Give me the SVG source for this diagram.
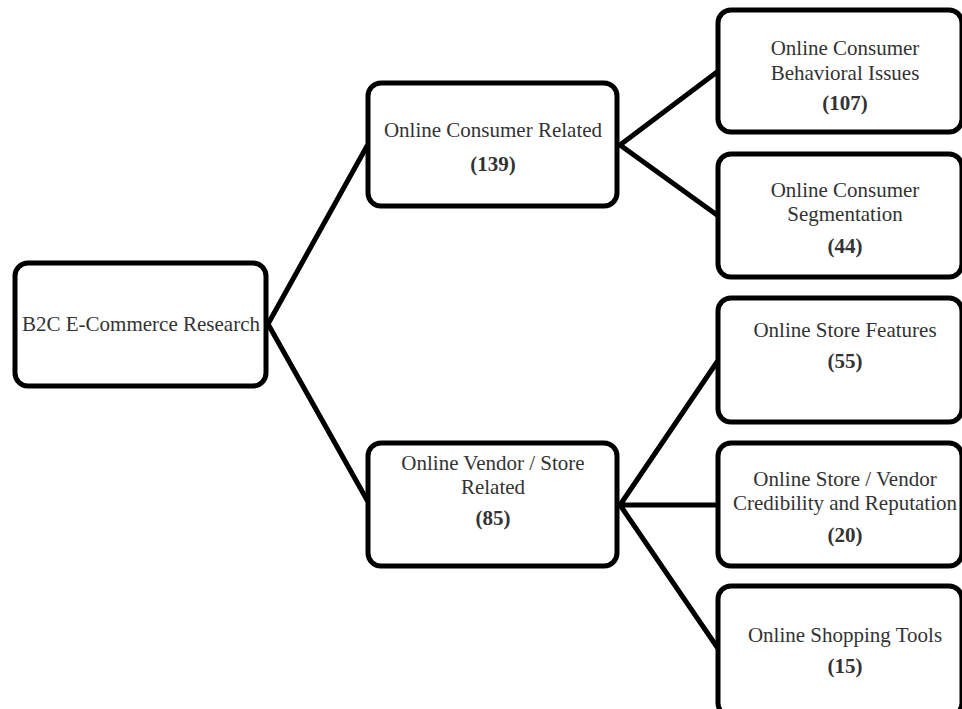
<svg xmlns="http://www.w3.org/2000/svg" width="962" height="709" viewBox="0 0 962 709">
<style>
.box{fill:#fff;stroke:#000;stroke-width:5}
.ln{stroke:#000;stroke-width:5;fill:none;stroke-linecap:round}
text{font-family:"Liberation Serif","Times New Roman",serif;font-size:21px;fill:#333;text-anchor:middle}
.n{font-weight:bold}
</style>
<rect width="962" height="709" fill="#fff"/>
<g id="connectors">
<path class="ln" d="M268 324 L367 146 M268 324 L367 500"/>
<path class="ln" d="M620 145 L717 72 M620 145 L717 215"/>
<path class="ln" d="M620 505 L717 362 M620 505 L717 505 M620 505 L717 647"/>
</g>
<g id="root">
<rect class="box" x="15" y="263" width="251" height="123" rx="13"/>
<text x="141" y="331">B2C E-Commerce Research</text>
</g>
<g id="consumer">
<rect class="box" x="368" y="83" width="249" height="123" rx="13"/>
<text x="493" y="137">Online Consumer Related</text>
<text class="n" x="493" y="171">(139)</text>
</g>
<g id="vendor">
<rect class="box" x="368" y="443" width="249" height="123" rx="13"/>
<text x="493" y="470">Online Vendor / Store</text>
<text x="493" y="494">Related</text>
<text class="n" x="493" y="525">(85)</text>
</g>
<g id="behavioral">
<rect class="box" x="718" y="10" width="244" height="122" rx="13"/>
<text x="845" y="55">Online Consumer</text>
<text x="845" y="80">Behavioral Issues</text>
<text class="n" x="845" y="110">(107)</text>
</g>
<g id="segmentation">
<rect class="box" x="718" y="154" width="244" height="123" rx="13"/>
<text x="845" y="197">Online Consumer</text>
<text x="845" y="221">Segmentation</text>
<text class="n" x="845" y="253">(44)</text>
</g>
<g id="features">
<rect class="box" x="718" y="298" width="244" height="124" rx="13"/>
<text x="845" y="337">Online Store Features</text>
<text class="n" x="845" y="368">(55)</text>
</g>
<g id="credibility">
<rect class="box" x="718" y="443" width="244" height="123" rx="13"/>
<text x="845" y="486">Online Store / Vendor</text>
<text x="845" y="510">Credibility and Reputation</text>
<text class="n" x="845" y="542">(20)</text>
</g>
<g id="tools">
<rect class="box" x="718" y="586" width="244" height="130" rx="13"/>
<text x="845" y="642">Online Shopping Tools</text>
<text class="n" x="845" y="673">(15)</text>
</g>
</svg>
